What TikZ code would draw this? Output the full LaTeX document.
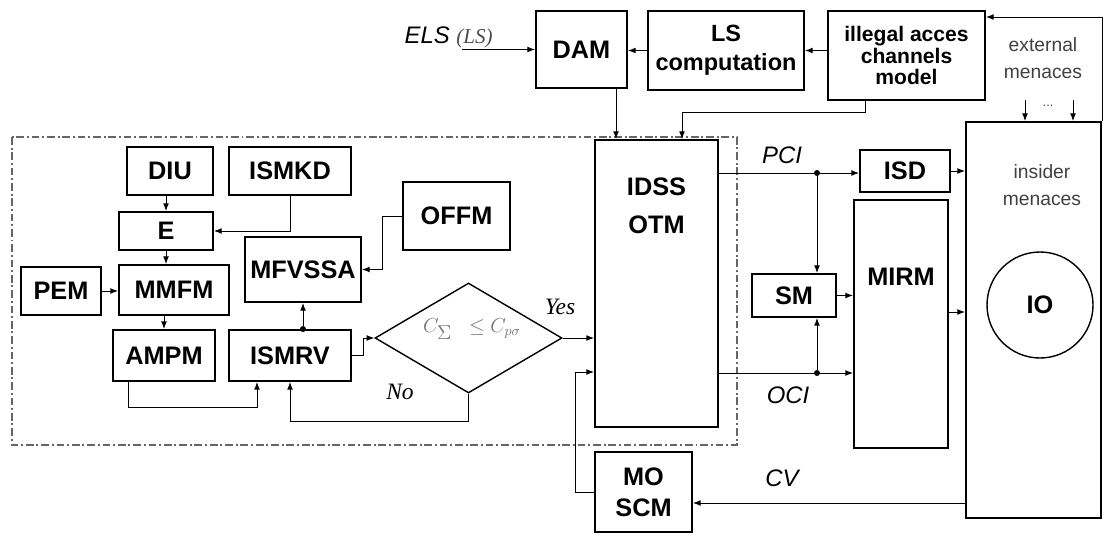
\documentclass[tikz,border=0pt]{standalone}
\usepackage{fontspec}
\setmainfont{Liberation Sans}
\newfontfamily\seriffam{Liberation Serif}
\usetikzlibrary{arrows.meta,shapes.geometric,calc}
\newcommand\PX{0.025cm}
\tikzset{
  block/.style={
    draw,
    line width=1.4pt,
    inner sep=2pt,
    align=center,
    font=\fontsize{18}{27}\selectfont\bfseries
  },
  boxsize/.style 2 args={
    minimum width=#1*\PX,
    minimum height=#2*\PX
  },
}
\tikzset{
  conn/.style={line width=0.7pt},
  arr/.style={line width=0.7pt, -{Latex[length=5.5pt,width=4.2pt]}},
  dot/.style={circle, fill, inner sep=0pt, minimum size=6*\PX},
  boldtxt/.style={font=\fontsize{18}{27}\selectfont\bfseries, align=center, inner sep=0pt},
  lbl/.style={font=\fontsize{17}{20}\selectfont\itshape, inner sep=0pt},
  menace/.style={font=\fontsize{13.7}{19}\selectfont, text=black!75, align=center, inner sep=0pt},
  answer/.style={font=\fontsize{16.7}{20}\selectfont\seriffam\itshape, inner sep=0pt},
  frame/.style={draw=black!60, line width=0.8pt, dash pattern=on 5.5pt off 2pt on 1.4pt off 2pt}
}

\begin{document}
\begin{tikzpicture}[x=\PX, y=-\PX]
    \useasboundingbox (0,0) rectangle (1103,539);

    % top row
    \node[block, boxsize={91}{77}] (dam) at (581.5,49.5) {DAM};
    \node[block, boxsize={156}{79}, font=\fontsize{16.7}{20.6}\selectfont\bfseries] (ls) at (726,50.5) {LS\\computation};
    \node[block, boxsize={157}{89}, font=\fontsize{15}{15.3}\selectfont\bfseries] (ill) at (906.5,55.5) {illegal acces\\channels\\model};
    \node[lbl, anchor=east] (els) at (493,37) {ELS {\fontsize{15}{17}\selectfont\seriffam\itshape\color{black!70}(LS)}};
    \coordinate (elsin) at (462,49.5);
    \node[menace] (external) at (1043,58) {external\\menaces};
    \node[menace, font=\fontsize{9}{10}\selectfont] (extdots) at (1048,106) {...};
    \coordinate (ext1) at (1025,100);
    \coordinate (ext2) at (1073,100);

    % dash-dot frame
    \draw[frame] (12,137) rectangle (737,445);

    % left blocks
    \node[block, boxsize={86}{48}] (diu) at (170,171) {DIU};
    \node[block, boxsize={122}{48}] (ismkd) at (290,171) {ISMKD};
    \node[block, boxsize={94}{38}] (e) at (166,231) {E};
    \node[block, boxsize={110}{50}] (mmfm) at (174,290) {MMFM};
    \node[block, boxsize={80}{48}] (pem) at (61,291) {PEM};
    \node[block, boxsize={102}{51}] (ampm) at (164,355.5) {AMPM};
    \node[block, boxsize={122}{51}] (ismrv) at (290,355.5) {ISMRV};
    \node[block, boxsize={116}{65}] (mfvssa) at (303,269.5) {MFVSSA};
    \node[block, boxsize={107}{68}, line width=1.1pt] (offm) at (456.5,216) {OFFM};
    \node[dot] (rvdot) at (ismrv.north -| mfvssa.south) {};

    % condition
    \node[draw, diamond, line width=1pt, inner sep=0pt, minimum width=187*\PX, minimum height=110*\PX] (cond) at (468.5,338) {};
    \node[text=black!55, font=\fontsize{14}{16}\selectfont] (condtxt) at (472,329) {$C_{\textstyle\Sigma}\;\;\leq C_{p\sigma}$};
    \node[answer] (yes) at (560,307) {Yes};
    \node[answer] (no) at (400,392) {No};

    % centre
    \node[block, boxsize={123}{287}] (idss) at (656.5,283.5) {};
    \node[boldtxt] (idsstxt) at (656.5,206) {IDSS\\OTM};
    \node[block, boxsize={97}{80}, font=\fontsize{18}{22}\selectfont\bfseries] (moscm) at (643.5,492) {MO\\SCM};

    % right side
    \node[block, boxsize={90}{42}] (isd) at (905,171) {ISD};
    \node[block, boxsize={94}{248}] (mirm) at (901,324) {};
    \node[boldtxt] (mirmtxt) at (901,277) {MIRM};
    \node[block, boxsize={84}{43}] (sm) at (794,295.5) {SM};
    \node[block, boxsize={135}{396}] (big) at (1033.5,320) {};
    \node[menace] (insider) at (1042,185) {insider\\menaces};
    \node[circle, draw, line width=1pt, minimum size=106*\PX, boldtxt] (io) at (1040,305) {IO};
    \node[dot] (pcidot) at (817,173) {};
    \node[dot] (ocidot) at (817,373) {};
    \node[lbl] (pci) at (782,155) {PCI};
    \node[lbl] (oci) at (788,395) {OCI};
    \node[lbl] (cv) at (782,478) {CV};

    % shifted ends
    \coordinate (damout) at ([xshift=34.5*\PX]dam.south);
    \coordinate (illout) at ([xshift=-41.5*\PX]ill.south);
    \coordinate (idssin) at ([xshift=25.5*\PX]idss.north);
    \coordinate (illin) at ([yshift=38.5*\PX]ill.east);
    \coordinate (ampmout) at ([xshift=-36*\PX]ampm.south);
    \coordinate (rvin) at ([xshift=-33*\PX]ismrv.south);
    \coordinate (mosin) at ([yshift=-88.5*\PX]idss.west);
    \coordinate (cvin) at ([yshift=-11*\PX]moscm.east);
    \coordinate (mirmout) at ([yshift=12*\PX]mirm.east);

    % top connectors
    \draw[arr] (elsin) -- (dam.west);
    \draw[arr] (ls.west) -- (ls.west -| dam.east);
    \draw[arr] (ill.west |- ls.east) -- (ls.east);
    \draw[arr] (damout) -- (damout |- idss.north);
    \draw[arr] (illout) -- ++(0,12) -| (idssin);
    \draw[arr] (big.north east) -- (big.north east |- illin) -- (illin);
    \draw[arr] (ext1) -- (ext1 |- big.north);
    \draw[arr] (ext2) -- (ext2 |- big.north);

    % left connectors
    \draw[arr] (diu.south -| e.north) -- (e.north);
    \draw[arr] (ismkd.south) |- (e.east);
    \draw[arr] (e.south) -- (e.south |- mmfm.north);
    \draw[arr] (pem.east) -- (pem.east -| mmfm.west);
    \draw[arr] (mmfm.south -| ampm.north) -- (ampm.north);
    \draw[arr] (ampmout) -- ++(0,26) -| (rvin);
    \draw[arr] (rvdot) -- (mfvssa.south);
    \draw[arr] (offm.west) -- ++(-20,0) |- (mfvssa.east);
    \draw[arr] (ismrv.east) -- ++(12,0) |- (cond.west);
    \draw[arr] (cond.east) -- (cond.east -| idss.west);
    \draw[arr] (cond.south) -- ++(0,28) -| (ismrv.south);

    % bottom and right connectors
    \draw[arr] (moscm.west) -- ++(-19,0) |- (mosin);
    \draw[arr] (cvin -| big.west) -- (cvin);
    \draw[conn] (idss.east |- pcidot) -- (pcidot);
    \draw[arr] (pcidot) -- (pcidot -| isd.west);
    \draw[arr] (pcidot) -- (pcidot |- sm.north);
    \draw[conn] (idss.east |- ocidot) -- (ocidot);
    \draw[arr] (ocidot) -- (ocidot -| mirm.west);
    \draw[arr] (ocidot) -- (ocidot |- sm.south);
    \draw[arr] (sm.east) -- (sm.east -| mirm.west);
    \draw[arr] (isd.east) -- (isd.east -| big.west);
    \draw[arr] (mirmout) -- (mirmout -| big.west);
\end{tikzpicture}
\end{document}
